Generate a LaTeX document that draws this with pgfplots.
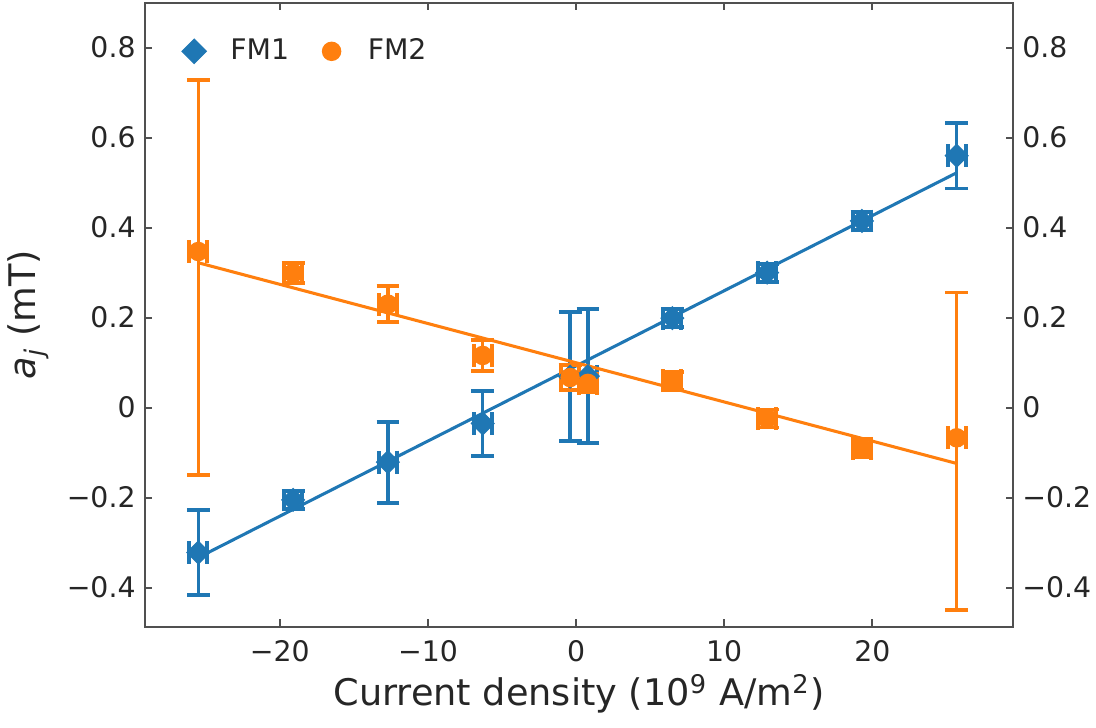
\documentclass[border=0pt]{standalone}
\usepackage{fontspec}
\setmainfont{DejaVu Sans}
\usepackage{pgfplots}
\pgfplotsset{compat=1.18}
\definecolor{fmblue}{RGB}{31,119,180}
\definecolor{fmorange}{RGB}{255,127,14}
\definecolor{txt}{RGB}{38,38,38}
\definecolor{spine}{RGB}{80,80,80}

% shared frame for both axes (1px = 0.36pt)
\pgfplotsset{
  base/.style={
    scale only axis, width=312.48pt, height=224.64pt,
    xmin=-29.1, xmax=29.5, ymin=-0.4867, ymax=0.9,
    axis line style={spine, line width=0.8pt},
    tick align=inside, major tick length=2.6pt,
    tick style={spine, line width=0.8pt},
    xtick={-20,-10,0,10,20}, ytick={-0.4,-0.2,0,0.2,0.4,0.6,0.8},
    yticklabels={−0.4,−0.2,0,0.2,0.4,0.6,0.8},
    ticklabel style={font=\fontsize{10.2}{12}\selectfont, text=txt},
  },
  ebars/.style={
    error bars/.cd, x dir=both, x explicit, y dir=both, y explicit,
    error bar style={line width=1.25pt},
    error mark options={rotate=90, line width=1.4pt, mark size=4.1pt},
  },
}

\begin{document}
\begin{tikzpicture}
\begin{axis}[base,
  xticklabels={−20,−10,0,10,20},
  xticklabel style={anchor=north, inner sep=0pt, yshift=-4.7pt},
  yticklabel style={anchor=east, inner sep=0pt, xshift=-3.2pt},
  xlabel={Current density (10\textsuperscript{9} A/m\textsuperscript{2})},
  ylabel={\textit{a}\textsubscript{\textit{j}} (mT)},
  label style={font=\fontsize{13.2}{16}\selectfont, text=txt},
  xlabel style={at={(axis description cs:0.5,-0.108)}, anchor=center},
  ylabel style={at={(axis description cs:-0.134,0.5)}, anchor=center},
  legend image code/.code={\draw[#1] plot coordinates {(0cm,0cm)}; \path (0.38cm,0cm);},
  legend style={at={(axis description cs:0.042,0.922)}, anchor=west,
    draw=none, fill=none, inner sep=0pt, text=txt,
    font=\fontsize{10.2}{12}\selectfont, legend columns=2,
    /tikz/every even column/.append style={column sep=10pt}},
]
% FM1
\addplot[fmblue, only marks, mark=square*, mark size=2.9pt,
  mark options={rotate=45}, forget plot, ebars]
coordinates {
  (-25.5,-0.322) +- (0.6,0.094)
  (-19.1,-0.205) +- (0.6,0.02)
  (-12.7,-0.121) +- (0.6,0.09)
  (-6.3,-0.035)  +- (0.6,0.073)
  (-0.4,0.069)   +- (0.6,0.143)
  (0.8,0.070)    +- (0.6,0.149)
  (6.5,0.199)    +- (0.6,0.02)
  (12.9,0.300)   +- (0.6,0.02)
  (19.3,0.415)   +- (0.6,0.02)
  (25.7,0.560)   +- (0.6,0.073)
};
\addplot[fmblue, line width=1.1pt, forget plot] coordinates {(-25.5,-0.333) (25.7,0.522)};
% FM2
\addplot[fmorange, only marks, mark=*, mark size=3.3pt, forget plot, ebars]
coordinates {
  (-25.5,0.347) += (0.6,0.381) -= (0.6,0.497)
  (-19.1,0.299) += (0.6,0.022) -= (0.6,0.022)
  (-12.7,0.230) += (0.6,0.04)  -= (0.6,0.04)
  (-6.3,0.116)  += (0.6,0.035) -= (0.6,0.035)
  (-0.4,0.067)  += (0.6,0.027) -= (0.6,0.027)
  (0.8,0.054)   += (0.6,0.02)  -= (0.6,0.02)
  (6.5,0.060)   += (0.6,0.02)  -= (0.6,0.02)
  (12.9,-0.024) += (0.6,0.02)  -= (0.6,0.02)
  (19.3,-0.090) += (0.6,0.02)  -= (0.6,0.02)
  (25.7,-0.067) += (0.6,0.323) -= (0.6,0.383)
};
\addplot[fmorange, line width=1.1pt, forget plot] coordinates {(-25.5,0.322) (25.7,-0.124)};
\addlegendimage{only marks, mark=square*, mark size=3.1pt, mark options={rotate=45}, fmblue}
\addlegendentry{FM1}
\addlegendimage{only marks, mark=*, mark size=3.3pt, fmorange}
\addlegendentry{FM2}
\end{axis}
% right-hand tick labels
\begin{axis}[base, hide x axis, axis y line*=right,
  y axis line style={draw=none}, major tick length=0pt,
  yticklabel style={anchor=west, inner sep=0pt, xshift=3.2pt},
]
\end{axis}
\pgfresetboundingbox
\useasboundingbox (-52.2pt,-36.47pt) rectangle (342.36pt,225.61pt);
\end{tikzpicture}
\end{document}
